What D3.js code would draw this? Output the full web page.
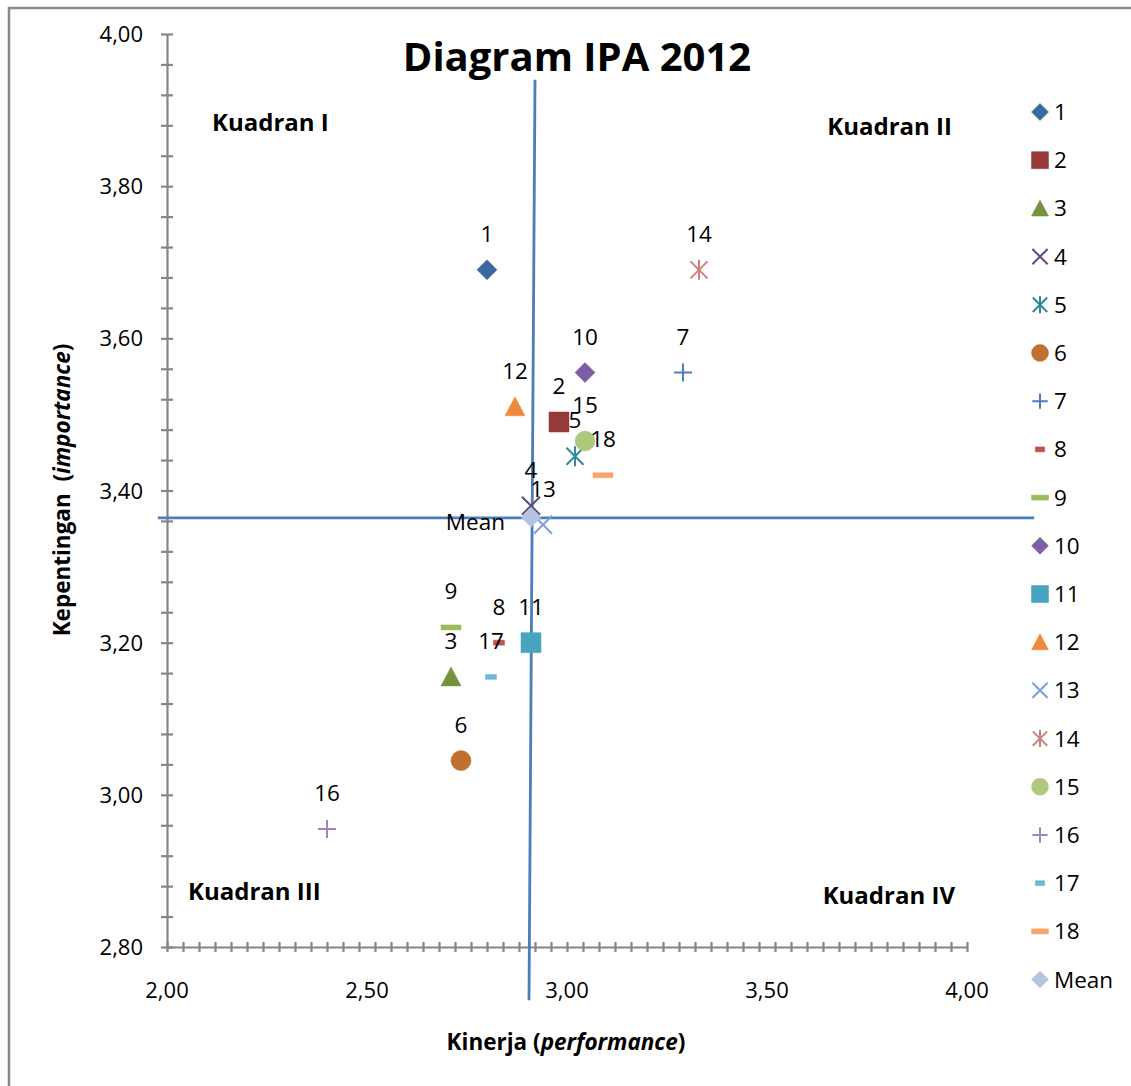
<!DOCTYPE html>
<html>
<head>
<meta charset="utf-8">
<script src="https://cdn.jsdelivr.net/npm/d3@7"></script>
<style>
  html, body { margin: 0; padding: 0; background: #fff; }
  svg { display: block; font-family: 'Open Sans', sans-serif; }
</style>
</head>
<body>
<div id="chart"></div>
<script>
// chart data
const pointNames = ['1', '2', '3', '4', '5', '6', '7', '8', '9', '10', '11', '12', '13', '14', '15', '16', '17', '18', 'Mean'];
const kinerja = [2.80, 2.98, 2.71, 2.91, 3.02, 2.735, 3.29, 2.83, 2.71, 3.045, 2.91, 2.87, 2.94, 3.33, 3.045, 2.40, 2.81, 3.09, 2.91];
const kepentingan = [3.69, 3.49, 3.155, 3.38, 3.445, 3.045, 3.555, 3.20, 3.22, 3.555, 3.20, 3.51, 3.355, 3.69, 3.465, 2.955, 3.155, 3.42, 3.365];
const xTickValues = [2.0, 2.5, 3.0, 3.5, 4.0];
const yTickValues = [2.8, 3.0, 3.2, 3.4, 3.6, 3.8, 4.0];
const quadrantNames = ['Kuadran I', 'Kuadran II', 'Kuadran III', 'Kuadran IV'];
const meanLineX = [2.92, 2.905];   // hand drawn, slightly tilted
const meanLineY = 3.364;

const markerShapes = ['diamond', 'square', 'triangle', 'x', 'star', 'circle', 'plus', 'dashShort', 'dashLong',
  'diamond', 'square', 'triangle', 'x', 'star', 'circle', 'plus', 'dashShort', 'dashLong', 'diamond'];
const markerColors = ['#3a67a0', '#953a39', '#76923c', '#604a7b', '#31859c', '#c0712f', '#4a7ebb', '#c0504d', '#9bbb59',
  '#7b5ea3', '#45a5bf', '#f08a3a', '#7f9fd6', '#d07e7c', '#aec87f', '#9d86be', '#6db8d2', '#f9a46c', '#b3c4e0'];

const width = 1131, height = 1086;
const svg = d3.select('#chart').append('svg')
  .attr('width', width)
  .attr('height', height);

// frame of the embedded chart
svg.append('path')
  .attr('d', 'M9,1086 V8 H1131')
  .attr('fill', 'none')
  .attr('stroke', '#888')
  .attr('stroke-width', 2.5);

const x = d3.scaleLinear().domain([2, 4]).range([167, 967]);
const y = d3.scaleLinear().domain([2.8, 4]).range([947, 34]);

// axes
const gx = svg.append('g').attr('transform', `translate(0,${y(2.8)})`);
gx.call(d3.axisBottom(x).tickValues(d3.range(0, 51).map(i => 2 + i * 0.04)).tickSize(0).tickFormat(''));
gx.selectAll('.tick line').attr('y1', -5).attr('y2', 5);
const gy = svg.append('g').attr('transform', `translate(${x(2)},0)`);
gy.call(d3.axisLeft(y).tickValues(d3.range(0, 31).map(i => 2.8 + i * 0.04)).tickSize(0).tickFormat(''));
gy.selectAll('.tick line').attr('x1', -6).attr('x2', 6);
svg.selectAll('.domain, .tick line').attr('stroke', '#868686').attr('stroke-width', 2.2);

const fmt = v => v.toFixed(2).replace('.', ',');
svg.selectAll('.xlab').data(xTickValues).join('text')
  .attr('x', d => x(d)).attr('y', 998)
  .attr('text-anchor', 'middle')
  .style('font-size', '22px')
  .text(fmt);
svg.selectAll('.ylab').data(yTickValues).join('text')
  .attr('x', 143).attr('y', d => y(d) + 8)
  .attr('text-anchor', 'end')
  .style('font-size', '22px')
  .text(fmt);

// axis titles
const xt = svg.append('text')
  .attr('x', 566).attr('y', 1050)
  .attr('text-anchor', 'middle')
  .style('font-size', '22.5px').style('font-weight', 'bold');
xt.append('tspan').text('Kinerja (');
xt.append('tspan').style('font-style', 'italic').text('performance');
xt.append('tspan').text(')');

const yt = svg.append('text')
  .attr('transform', 'translate(70,490) rotate(-90)')
  .attr('text-anchor', 'middle')
  .style('font-size', '22.5px').style('font-weight', 'bold');
yt.append('tspan').text('Kepentingan\u00a0 (');
yt.append('tspan').style('font-style', 'italic').text('importance');
yt.append('tspan').text(')');

// title
svg.append('text')
  .attr('x', 577).attr('y', 71)
  .attr('text-anchor', 'middle')
  .style('font-size', '40px').style('font-weight', 'bold')
  .text('Diagram IPA 2012');

// quadrant labels
const quadPos = [[212, 131, 'start'], [952, 135, 'end'], [188, 900, 'start'], [955, 904, 'end']];
svg.selectAll('.quad').data(quadrantNames).join('text')
  .attr('x', (d, i) => quadPos[i][0]).attr('y', (d, i) => quadPos[i][1])
  .attr('text-anchor', (d, i) => quadPos[i][2])
  .style('font-size', '24px').style('font-weight', 'bold')
  .text(d => d);

// mean lines
svg.append('line')
  .attr('x1', x(meanLineX[0])).attr('y1', y(3.94))
  .attr('x2', x(meanLineX[1])).attr('y2', y(2.73))
  .attr('stroke', '#4a7ebb').attr('stroke-width', 2.8);
svg.append('line')
  .attr('x1', x(1.977)).attr('y1', y(meanLineY))
  .attr('x2', x(4.168)).attr('y2', y(meanLineY))
  .attr('stroke', '#4a7ebb').attr('stroke-width', 2.8);

// marker path builder, s = full marker width
function marker(shape, s) {
  const h = s / 2;
  switch (shape) {
    case 'diamond': return { d: `M0,${-h}L${h},0L0,${h}L${-h},0Z`, fill: true };
    case 'square': return { d: `M${-h},${-h}H${h}V${h}H${-h}Z`, fill: true };
    case 'triangle': return { d: `M0,${-h}L${h},${h * 0.9}L${-h},${h * 0.9}Z`, fill: true };
    case 'circle': return { d: d3.arc()({ innerRadius: 0, outerRadius: h, startAngle: 0, endAngle: 2 * Math.PI }), fill: true };
    case 'x': { const k = h * 0.9; return { d: `M${-k},${-k}L${k},${k}M${-k},${k}L${k},${-k}`, fill: false }; }
    case 'star': { const k = h * 0.85; return { d: `M${-k},${-k}L${k},${k}M${-k},${k}L${k},${-k}M0,${-h}V${h}`, fill: false }; }
    case 'plus': { const k = h * 0.9; return { d: `M${-k},0H${k}M0,${-k}V${k}`, fill: false }; }
    case 'dashShort': return { d: `M${-h * 0.55},-2.5H${h * 0.55}V2.5H${-h * 0.55}Z`, fill: true };
    case 'dashLong': return { d: `M${-h},-2.5H${h}V2.5H${-h}Z`, fill: true };
  }
}

function drawMarker(g, i, s) {
  const m = marker(markerShapes[i], s);
  g.append('path')
    .attr('d', m.d)
    .attr('fill', m.fill ? markerColors[i] : 'none')
    .attr('stroke', markerColors[i])
    .attr('stroke-width', m.fill ? 0.5 : 2)
    .attr('stroke-linejoin', 'round');
}

// points
const points = svg.append('g');
pointNames.forEach((name, i) => {
  const g = points.append('g').attr('transform', `translate(${x(kinerja[i])},${y(kepentingan[i])})`);
  drawMarker(g, i, 20);
});

// data labels (drawn after markers)
pointNames.forEach((name, i) => {
  const px = x(kinerja[i]), py = y(kepentingan[i]);
  const isMean = name === 'Mean';
  svg.append('text')
    .attr('x', isMean ? px - 26 : px)
    .attr('y', isMean ? py + 13 : py - 28)
    .attr('text-anchor', isMean ? 'end' : 'middle')
    .style('font-size', '22.5px')
    .text(name);
});

// legend
const legend = svg.append('g');
pointNames.forEach((name, i) => {
  const ly = 112 + i * 48.2;
  const g = legend.append('g').attr('transform', `translate(1040,${ly})`);
  drawMarker(g, i, 17);
  legend.append('text')
    .attr('x', 1054).attr('y', ly + 8)
    .style('font-size', '22.5px')
    .text(name);
});
</script>
</body>
</html>
